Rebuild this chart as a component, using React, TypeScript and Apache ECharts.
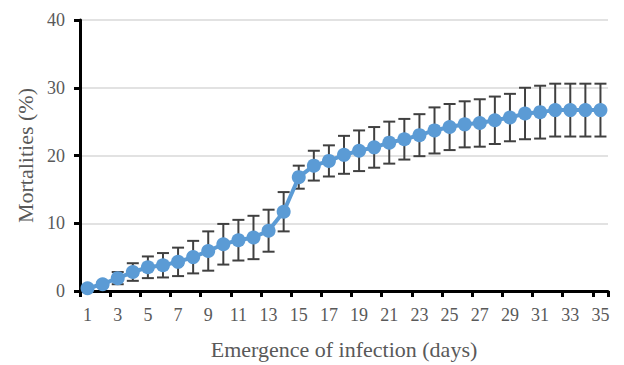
import React, { useEffect, useRef } from "react";
import * as echarts from "echarts";

const days = Array.from({ length: 35 }, (_, i) => String(i + 1));
const mortality = [
  0.4, 1.0, 1.9, 2.8, 3.5, 3.8, 4.3, 5.0, 5.9, 6.9, 7.5, 7.9, 8.9, 11.7, 16.8,
  18.5, 19.2, 20.1, 20.7, 21.2, 21.9, 22.4, 23.0, 23.7, 24.2, 24.6, 24.8, 25.2,
  25.6, 26.2, 26.4, 26.7, 26.7, 26.7, 26.7,
];
const errors = [
  0, 0.3, 0.9, 1.3, 1.6, 1.8, 2.1, 2.4, 2.9, 3.0, 3.0, 3.2, 3.1, 2.9, 1.7, 2.2,
  2.3, 2.8, 3.0, 3.0, 3.1, 3.0, 3.1, 3.4, 3.4, 3.4, 3.5, 3.5, 3.5, 3.8, 3.9,
  3.9, 3.9, 3.9, 3.9,
];
const yTicks = [0, 10, 20, 30, 40];

const FONT = "'Liberation Serif', 'Times New Roman', serif";
const TEXT = "#595959";

export default function App() {
  const ref = useRef<HTMLDivElement>(null);
  useEffect(() => {
    if (!ref.current) return;
    const chart = echarts.init(ref.current, null, { renderer: "svg" });
    const errData = mortality.map((m, i) => [i, m - errors[i], m + errors[i]]);
    chart.setOption({
      animation: false,
      backgroundColor: "#ffffff",
      grid: { left: 80, right: 16, top: 20, bottom: 69 },
      xAxis: {
        type: "category",
        data: days,
        boundaryGap: true,
        name: "Emergence of infection (days)",
        nameLocation: "middle",
        nameGap: 47,
        nameTextStyle: { color: TEXT, fontFamily: FONT, fontSize: 22 },
        axisLine: { lineStyle: { color: "#000", width: 3 } },
        axisTick: { show: true, interval: 1, length: 6, lineStyle: { color: "#000", width: 3 } },
        axisLabel: { interval: 1, color: TEXT, fontFamily: FONT, fontSize: 18, margin: 15 },
        splitLine: { show: false },
      },
      yAxis: {
        type: "value",
        min: yTicks[0],
        max: yTicks[yTicks.length - 1],
        interval: 10,
        name: "Mortalities (%)",
        nameLocation: "middle",
        nameGap: 44,
        nameTextStyle: { color: TEXT, fontFamily: FONT, fontSize: 22 },
        axisLine: { show: true, lineStyle: { color: "#000", width: 3 } },
        axisTick: { show: true, length: 6, lineStyle: { color: "#000", width: 3 } },
        axisLabel: { color: TEXT, fontFamily: FONT, fontSize: 18, margin: 15 },
        splitLine: { lineStyle: { color: "#d9d9d9", width: 1.5 } },
      },
      series: [
        {
          type: "custom",
          z: 1,
          data: errData,
          encode: { x: 0, y: [1, 2] },
          renderItem: (params: any, api: any) => {
            const x = api.value(0);
            const lo = api.value(1);
            const hi = api.value(2);
            if (hi - lo <= 0) return null;
            const t = api.coord([x, hi]);
            const b = api.coord([x, lo]);
            const w = 6;
            const style = { stroke: "#404040", lineWidth: 2 };
            return {
              type: "group",
              children: [
                { type: "line", shape: { x1: t[0], y1: t[1], x2: b[0], y2: b[1] }, style },
                { type: "line", shape: { x1: t[0] - w, y1: t[1], x2: t[0] + w, y2: t[1] }, style },
                { type: "line", shape: { x1: b[0] - w, y1: b[1], x2: b[0] + w, y2: b[1] }, style },
              ],
            };
          },
        },
        {
          type: "line",
          z: 3,
          data: mortality,
          symbol: "circle",
          symbolSize: 14,
          showAllSymbol: true,
          lineStyle: { color: "#5B9BD5", width: 4 },
          itemStyle: { color: "#5B9BD5" },
        },
      ],
    });
    return () => chart.dispose();
  }, []);
  return (
    <div
      ref={ref}
      style={{ position: "fixed", left: 0, top: 0, width: 624, height: 365, background: "#fff" }}
    />
  );
}
